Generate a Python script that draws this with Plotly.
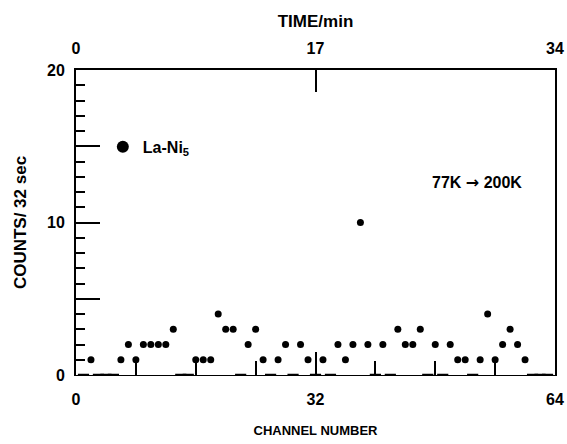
import plotly.graph_objects as go

# Counts per 32 s bin for each channel (La-Ni5, warmed 77 K -> 200 K)
channels = list(range(1, 64))
counts = [
    0, 1, 0, 0, 0, 1, 2, 1, 2, 2,      # 1-10
    2, 2, 3, 0, 0, 1, 1, 1, 4, 3,      # 11-20
    3, 0, 2, 3, 1, 0, 1, 2, 0, 2,      # 21-30
    1, 0, 1, 0, 2, 1, 2, 10, 2, 0,     # 31-40
    2, 0, 3, 2, 2, 3, 0, 2, 0, 2,      # 41-50
    1, 1, 0, 1, 4, 1, 2, 3, 2, 1,      # 51-60
    0, 0, 0,                           # 61-63
]

channel_ticks = [0, 32, 64]
time_ticks = [0, 17, 34]
count_ticks = [0, 10, 20]
count_half_ticks = [5, 15]

FONT = "Liberation Sans, Arial, sans-serif"

# channels with counts are dots; empty channels sit on the baseline as short dashes
hit_x = [ch for ch, c in zip(channels, counts) if c > 0]
hit_y = [c for c in counts if c > 0]
empty_x = [ch for ch, c in zip(channels, counts) if c == 0]
empty_y = [c for c in counts if c == 0]

fig = go.Figure()

fig.add_trace(go.Scatter(
    x=hit_x, y=hit_y, mode="markers",
    name="La-Ni<sub>5</sub>",
    marker=dict(color="black", size=7, symbol="circle", line=dict(width=0)),
    xaxis="x", yaxis="y",
))

fig.add_trace(go.Scatter(
    x=empty_x, y=empty_y, mode="markers", showlegend=False,
    marker=dict(color="black", size=8, symbol="line-ew",
                line=dict(color="black", width=2.5)),
    xaxis="x", yaxis="y",
))

# invisible trace so the top time axis and the half-decade ticks are drawn
fig.add_trace(go.Scatter(
    x=[0, 34], y=[0, 20], mode="markers", marker=dict(opacity=0),
    showlegend=False, hoverinfo="skip", xaxis="x2", yaxis="y2",
))

axis_font = dict(family=FONT, size=16, color="black", weight="bold")

fig.update_layout(
    width=567, height=444,
    margin=dict(l=76, r=12, t=70, b=69, autoexpand=False),
    paper_bgcolor="white", plot_bgcolor="white",
    font=dict(family=FONT, color="black"),
    showlegend=True,
    legend=dict(
        x=0.056, y=0.748, xanchor="left", yanchor="middle",
        bgcolor="rgba(0,0,0,0)", borderwidth=0,
        font=dict(family=FONT, size=16, color="black", weight="bold"),
        itemsizing="constant",
    ),
    xaxis=dict(
        range=[0, 64], tickvals=channel_ticks, automargin=False,
        ticks="inside", ticklen=23, tickwidth=2, tickcolor="black",
        minor=dict(dtick=8, ticks="inside", ticklen=14, tickwidth=2, tickcolor="black"),
        showline=True, linewidth=1, linecolor="black",
        showgrid=False, zeroline=False,
        tickfont=axis_font, ticklabelstandoff=10,
        title=dict(text="CHANNEL NUMBER",
                   font=dict(family=FONT, size=13, weight="bold"), standoff=18),
    ),
    xaxis2=dict(
        range=[0, 34], tickvals=time_ticks, overlaying="x", side="top", anchor="y",
        automargin=False,
        ticks="inside", ticklen=22, tickwidth=2, tickcolor="black",
        showline=True, linewidth=2, linecolor="black",
        showgrid=False, zeroline=False,
        tickfont=axis_font, ticklabelstandoff=8,
        title=dict(text="TIME/min",
                   font=dict(family=FONT, size=17, weight="bold"), standoff=8),
    ),
    yaxis=dict(
        range=[0, 20], tickvals=count_ticks, automargin=False,
        ticks="inside", ticklen=24, tickwidth=2, tickcolor="black",
        minor=dict(dtick=1, ticks="inside", ticklen=9, tickwidth=1.5, tickcolor="black"),
        showline=True, linewidth=2, linecolor="black", mirror=True,
        showgrid=False, zeroline=False,
        tickfont=axis_font, ticklabelstandoff=6,
        title=dict(text="COUNTS/ 32 sec",
                   font=dict(family=FONT, size=17, weight="bold"), standoff=16),
    ),
    yaxis2=dict(
        range=[0, 20], tickvals=count_half_ticks, overlaying="y", side="left",
        anchor="x", automargin=False,
        ticks="inside", ticklen=24, tickwidth=2, tickcolor="black",
        showticklabels=False, showline=False, showgrid=False, zeroline=False,
    ),
    annotations=[
        dict(
            text="77K <span style='font-family:DejaVu Sans'>\u2192</span> 200K",
            x=0.838, y=0.63, xref="paper", yref="paper",
            xanchor="center", yanchor="middle", showarrow=False,
            font=dict(family=FONT, size=16, color="black", weight="bold"),
        ),
    ],
)

fig.write_html("out.html")
